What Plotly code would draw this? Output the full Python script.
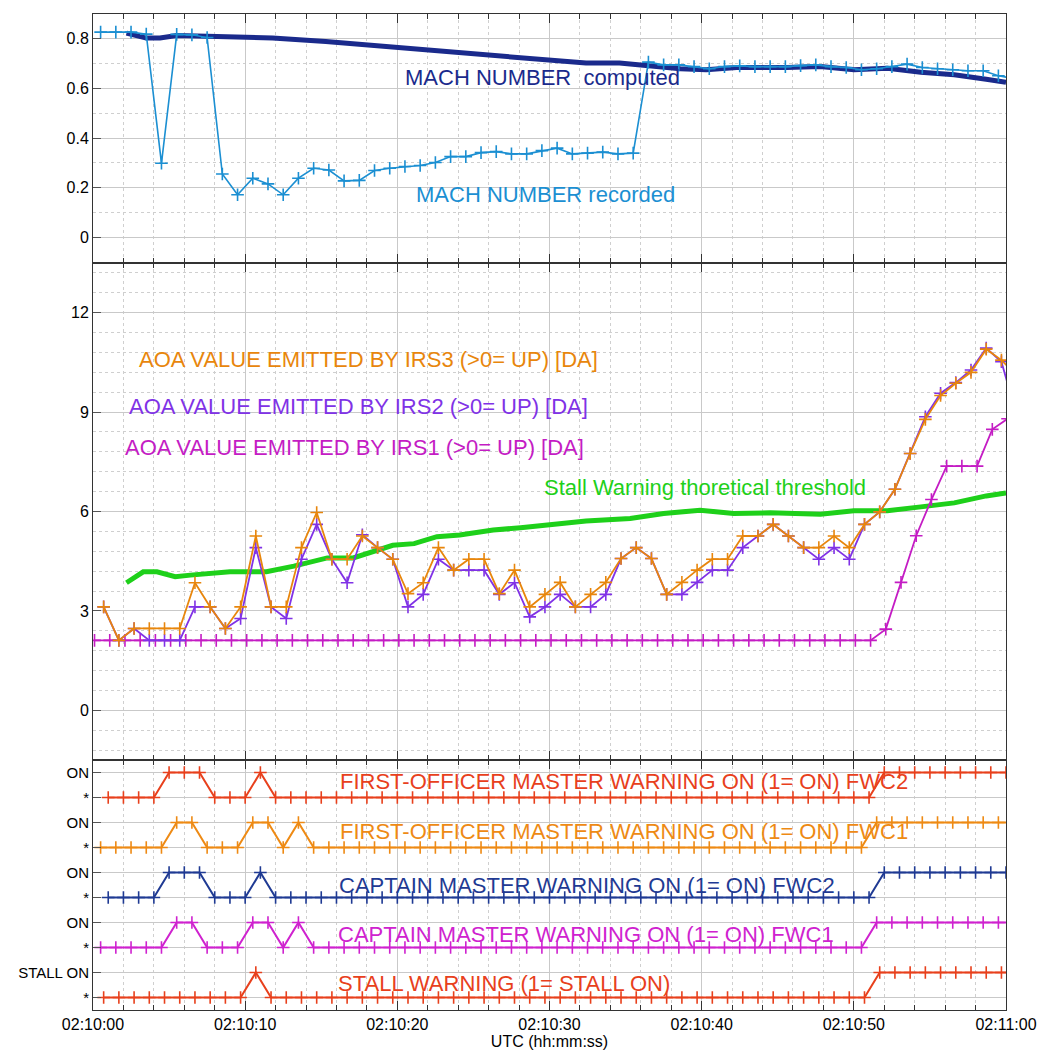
import plotly.graph_objects as go
from plotly.subplots import make_subplots

# ---------------- DATA ----------------
# time in seconds after 02:10:00
X_TICK_VALS = [0, 10, 20, 30, 40, 50, 60]
X_TICK_TEXT = ["02:10:00", "02:10:10", "02:10:20", "02:10:30", "02:10:40", "02:10:50", "02:11:00"]

# Mach number recorded (1 Hz, t = 0.5 s + k)
T_MACH_REC = [0.5, 1.5, 2.5, 3.5, 4.5, 5.5, 6.5, 7.5, 8.5, 9.5, 10.5, 11.5, 12.5, 13.5, 14.5,
              15.5, 16.5, 17.5, 18.5, 19.5, 20.5, 21.5, 22.5, 23.5, 24.5, 25.5, 26.5, 27.5, 28.5,
              29.5, 30.5, 31.5, 32.5, 33.5, 34.5, 35.5, 36.5, 37.5, 38.5, 39.5, 40.5, 41.5, 42.5,
              43.5, 44.5, 45.5, 46.5, 47.5, 48.5, 49.5, 50.5, 51.5, 52.5, 53.5, 54.5, 55.5, 56.5,
              57.5, 58.5, 59.5, 60.5]
MACH_REC = [0.827, 0.827, 0.827, 0.819, 0.298, 0.818, 0.816, 0.805, 0.255, 0.171, 0.238, 0.215,
            0.171, 0.238, 0.278, 0.271, 0.227, 0.229, 0.269, 0.278, 0.285, 0.289, 0.301, 0.325,
            0.325, 0.341, 0.345, 0.336, 0.336, 0.349, 0.359, 0.336, 0.339, 0.343, 0.336, 0.339,
            0.706, 0.695, 0.695, 0.688, 0.679, 0.688, 0.691, 0.688, 0.688, 0.688, 0.692, 0.695,
            0.688, 0.684, 0.675, 0.679, 0.688, 0.698, 0.684, 0.679, 0.675, 0.671, 0.671, 0.651,
            0.640]

# Mach number computed
T_MACH_COMP = [2.2, 3.5, 4.4, 5.5, 7.5, 9.9, 11.8, 15.3, 17.5, 19.7, 21.9, 24.1, 26.3, 28.1, 30.3,
               32.4, 34.6, 36.8, 38.6, 40.3, 42.3, 45.6, 47.8, 50.0, 52.2, 54.4, 56.6, 58.7, 60.0]
MACH_COMP = [0.823, 0.803, 0.803, 0.813, 0.810, 0.807, 0.803, 0.789, 0.778, 0.765, 0.753, 0.745,
             0.733, 0.726, 0.715, 0.702, 0.702, 0.688, 0.679, 0.675, 0.684, 0.684, 0.688, 0.675,
             0.681, 0.665, 0.655, 0.637, 0.625]

# AOA IRS1 (t = 0.1 s + k)
T_IRS1 = [0.1, 1.1, 2.1, 3.1, 4.1, 5.1, 6.1, 7.1, 8.1, 9.1, 10.1, 11.1, 12.1, 13.1, 14.1, 15.1,
          16.1, 17.1, 18.1, 19.1, 20.1, 21.1, 22.1, 23.1, 24.1, 25.1, 26.1, 27.1, 28.1, 29.1, 30.1,
          31.1, 32.1, 33.1, 34.1, 35.1, 36.1, 37.1, 38.1, 39.1, 40.1, 41.1, 42.1, 43.1, 44.1, 45.1,
          46.1, 47.1, 48.1, 49.1, 50.1, 51.1, 52.1, 53.1, 54.1, 55.1, 56.1, 57.1, 58.1, 59.1, 60.1]
AOA_IRS1 = [2.11, 2.11, 2.11, 2.11, 2.11, 2.11, 2.11, 2.11, 2.11, 2.11, 2.11, 2.11, 2.11, 2.11,
            2.11, 2.11, 2.11, 2.11, 2.11, 2.11, 2.11, 2.11, 2.11, 2.11, 2.11, 2.11, 2.11, 2.11,
            2.11, 2.11, 2.11, 2.11, 2.11, 2.11, 2.11, 2.11, 2.11, 2.11, 2.11, 2.11, 2.11, 2.11,
            2.11, 2.11, 2.11, 2.11, 2.11, 2.11, 2.11, 2.11, 2.11, 2.11, 2.45, 3.86, 5.27, 6.36,
            7.37, 7.37, 7.37, 8.48, 8.80]

# AOA IRS2 / IRS3 (t = 0.7 s + k)
T_IRS23 = [0.7, 1.7, 2.7, 3.7, 4.7, 5.7, 6.7, 7.7, 8.7, 9.7, 10.7, 11.7, 12.7, 13.7, 14.7, 15.7,
           16.7, 17.7, 18.7, 19.7, 20.7, 21.7, 22.7, 23.7, 24.7, 25.7, 26.7, 27.7, 28.7, 29.7, 30.7,
           31.7, 32.7, 33.7, 34.7, 35.7, 36.7, 37.7, 38.7, 39.7, 40.7, 41.7, 42.7, 43.7, 44.7, 45.7,
           46.7, 47.7, 48.7, 49.7, 50.7, 51.7, 52.7, 53.7, 54.7, 55.7, 56.7, 57.7, 58.7, 59.7, 60.7]
AOA_IRS2 = [3.12, 2.11, 2.47, 2.11, 2.11, 2.11, 3.12, 3.12, 2.47, 2.77, 4.91, 3.12, 2.77, 4.56,
            5.61, 4.56, 3.85, 5.30, 4.91, 4.56, 3.12, 3.50, 4.56, 4.23, 4.23, 4.23, 3.50, 3.85,
            2.82, 3.12, 3.50, 3.12, 3.12, 3.50, 4.58, 4.91, 4.58, 3.50, 3.50, 3.86, 4.23, 4.23,
            4.91, 5.26, 5.61, 5.26, 4.91, 4.56, 4.91, 4.56, 5.61, 5.99, 6.67, 7.75, 8.86, 9.57,
            9.89, 10.27, 10.93, 10.52, 8.90]
AOA_IRS3 = [3.12, 2.11, 2.47, 2.47, 2.47, 2.47, 3.85, 3.12, 2.47, 3.12, 5.26, 3.12, 3.12, 4.91,
            5.97, 4.56, 4.56, 5.26, 4.91, 4.56, 3.52, 3.85, 4.91, 4.23, 4.56, 4.56, 3.52, 4.23,
            3.12, 3.50, 3.86, 3.12, 3.50, 3.86, 4.58, 4.91, 4.58, 3.50, 3.86, 4.23, 4.56, 4.56,
            5.26, 5.26, 5.61, 5.26, 4.91, 4.91, 5.26, 4.91, 5.61, 5.99, 6.67, 7.75, 8.78, 9.50,
            9.87, 10.20, 10.90, 10.57, 10.10]

# Stall warning theoretical threshold
T_STALL_THR = [2.2, 3.3, 4.2, 5.4, 6.4, 7.7, 9.0, 10.1, 11.4, 13.2, 15.4, 17.1, 19.7, 21.1, 22.6,
               24.1, 26.3, 28.1, 30.3, 32.4, 35.3, 37.5, 39.9, 42.1, 44.5, 46.7, 47.8, 50.0, 52.2,
               54.4, 56.6, 58.7, 60.0]
STALL_THR = [3.85, 4.18, 4.18, 4.03, 4.08, 4.14, 4.18, 4.18, 4.18, 4.35, 4.60, 4.60, 4.98, 5.03,
             5.24, 5.29, 5.44, 5.51, 5.61, 5.71, 5.79, 5.94, 6.04, 5.94, 5.96, 5.92, 5.92, 6.02,
             6.02, 6.14, 6.26, 6.47, 6.56]

# Discrete parameters (0 = off "*", 1 = ON)
T_D1 = [1, 2, 3, 4, 5, 6, 7, 8, 9, 10, 11, 12, 13, 14, 15, 16, 17, 18, 19, 20, 21, 22, 23, 24, 25,
        26, 27, 28, 29, 30, 31, 32, 33, 34, 35, 36, 37, 38, 39, 40, 41, 42, 43, 44, 45, 46, 47, 48,
        49, 50, 51, 52, 53, 54, 55, 56, 57, 58, 59, 60]
T_D2 = [0.5, 1.5, 2.5, 3.5, 4.5, 5.5, 6.5, 7.5, 8.5, 9.5, 10.5, 11.5, 12.5, 13.5, 14.5, 15.5, 16.5,
        17.5, 18.5, 19.5, 20.5, 21.5, 22.5, 23.5, 24.5, 25.5, 26.5, 27.5, 28.5, 29.5, 30.5, 31.5,
        32.5, 33.5, 34.5, 35.5, 36.5, 37.5, 38.5, 39.5, 40.5, 41.5, 42.5, 43.5, 44.5, 45.5, 46.5,
        47.5, 48.5, 49.5, 50.5, 51.5, 52.5, 53.5, 54.5, 55.5, 56.5, 57.5, 58.5, 59.5, 60.5]
T_D3 = [0.7, 1.7, 2.7, 3.7, 4.7, 5.7, 6.7, 7.7, 8.7, 9.7, 10.7, 11.7, 12.7, 13.7, 14.7, 15.7, 16.7,
        17.7, 18.7, 19.7, 20.7, 21.7, 22.7, 23.7, 24.7, 25.7, 26.7, 27.7, 28.7, 29.7, 30.7, 31.7,
        32.7, 33.7, 34.7, 35.7, 36.7, 37.7, 38.7, 39.7, 40.7, 41.7, 42.7, 43.7, 44.7, 45.7, 46.7,
        47.7, 48.7, 49.7, 50.7, 51.7, 52.7, 53.7, 54.7, 55.7, 56.7, 57.7, 58.7, 59.7, 60.7]

FO_MW_FWC2 = [0, 0, 0, 0, 1, 1, 1, 0, 0, 0, 1, 0, 0, 0, 0, 0, 0, 0, 0, 0, 0, 0, 0, 0, 0, 0, 0, 0, 0,
              0, 0, 0, 0, 0, 0, 0, 0, 0, 0, 0, 0, 0, 0, 0, 0, 0, 0, 0, 0, 0, 0, 1, 1, 1, 1, 1, 1, 1,
              1, 1]
FO_MW_FWC1 = [0, 0, 0, 0, 0, 1, 1, 0, 0, 0, 1, 1, 0, 1, 0, 0, 0, 0, 0, 0, 0, 0, 0, 0, 0, 0, 0, 0, 0,
              0, 0, 0, 0, 0, 0, 0, 0, 0, 0, 0, 0, 0, 0, 0, 0, 0, 0, 0, 0, 0, 0, 1, 1, 1, 1, 1, 1, 1,
              1, 1, 1]
CPT_MW_FWC2 = [0, 0, 0, 0, 1, 1, 1, 0, 0, 0, 1, 0, 0, 0, 0, 0, 0, 0, 0, 0, 0, 0, 0, 0, 0, 0, 0, 0,
               0, 0, 0, 0, 0, 0, 0, 0, 0, 0, 0, 0, 0, 0, 0, 0, 0, 0, 0, 0, 0, 0, 0, 1, 1, 1, 1, 1, 1,
               1, 1, 1]
CPT_MW_FWC1 = [0, 0, 0, 0, 0, 1, 1, 0, 0, 0, 1, 1, 0, 1, 0, 0, 0, 0, 0, 0, 0, 0, 0, 0, 0, 0, 0, 0,
               0, 0, 0, 0, 0, 0, 0, 0, 0, 0, 0, 0, 0, 0, 0, 0, 0, 0, 0, 0, 0, 0, 0, 1, 1, 1, 1, 1, 1,
               1, 1, 1, 1]
STALL_WARN = [0, 0, 0, 0, 0, 0, 0, 0, 0, 0, 1, 0, 0, 0, 0, 0, 0, 0, 0, 0, 0, 0, 0, 0, 0, 0, 0, 0, 0,
              0, 0, 0, 0, 0, 0, 0, 0, 0, 0, 0, 0, 0, 0, 0, 0, 0, 0, 0, 0, 0, 0, 1, 1, 1, 1, 1, 1, 1,
              1, 1, 1]

DISC_TICK_VALS = [0, 1, 2, 3, 4, 5, 6, 7, 8, 9]
DISC_TICK_TEXT = ["*", "STALL ON", "*", "ON", "*", "ON", "*", "ON", "*", "ON"]

# ---------------- STYLE ----------------
FONT = "Liberation Sans, Arial, sans-serif"
C_MREC = "#1b8fd2"
C_MCOMP = "#1a2a8c"
C_IRS3 = "#e8860c"
C_IRS2 = "#8032e6"
C_IRS1 = "#c41cc4"
C_GREEN = "#1ed01a"
C_RED = "#e8401c"
C_ORANGE = "#ee8a14"
C_NAVY = "#1f3a93"
C_MAG = "#cf22cf"

fig = make_subplots(rows=3, cols=1, shared_xaxes=True, vertical_spacing=0,
                    row_heights=[249, 497, 250])


def add_line(t, v, color, row, width=1.6, markers=True, msize=9, offset=0):
    y = [val + offset for val in v]
    fig.add_trace(go.Scatter(
        x=t, y=y, mode="lines+markers" if markers else "lines",
        line=dict(color=color, width=width),
        marker=dict(symbol="cross-thin", size=msize, line=dict(width=1.6, color=color)),
        hoverinfo="skip"), row=row, col=1)


# top panel
add_line(T_MACH_COMP, MACH_COMP, C_MCOMP, 1, width=5, markers=False)
add_line(T_MACH_REC, MACH_REC, C_MREC, 1, width=1.6)

# middle panel
add_line(T_STALL_THR, STALL_THR, C_GREEN, 2, width=5, markers=False)
add_line(T_IRS1, AOA_IRS1, C_IRS1, 2, width=1.8)
add_line(T_IRS23, AOA_IRS2, C_IRS2, 2, width=1.8)
add_line(T_IRS23, AOA_IRS3, C_IRS3, 2, width=1.8)

# bottom panel
add_line(T_D1, FO_MW_FWC2, C_RED, 3, width=2, offset=8)
add_line(T_D2, FO_MW_FWC1, C_ORANGE, 3, width=2, offset=6)
add_line(T_D1, CPT_MW_FWC2, C_NAVY, 3, width=2, offset=4)
add_line(T_D2, CPT_MW_FWC1, C_MAG, 3, width=2, offset=2)
add_line(T_D3, STALL_WARN, C_RED, 3, width=2, offset=0)

# axes
GRID = "#c9c9c9"
MINOR_GRID = "#cfcfcf"
AX = "#333333"
for r in (1, 2, 3):
    fig.update_xaxes(
        row=r, col=1, range=[0, 60], tickmode="array", tickvals=X_TICK_VALS,
        ticktext=X_TICK_TEXT, showticklabels=(r == 3), ticks="inside", ticklen=9,
        tickcolor=AX, tickwidth=1, showline=True, linecolor=AX, linewidth=1,
        mirror="allticks", showgrid=True, gridcolor=GRID, gridwidth=1, zeroline=False,
        automargin=False,
        minor=dict(tickmode="linear", tick0=0, dtick=2, ticks="inside", ticklen=5,
                   tickcolor=AX, showgrid=True, gridcolor=MINOR_GRID, griddash="dot",
                   gridwidth=1),
        tickfont=dict(family=FONT, size=16, color="black"))

fig.update_xaxes(row=3, col=1, title=dict(text="UTC (hh:mm:ss)", standoff=0,
                                          font=dict(family=FONT, size=16, color="black")))

common_y = dict(ticks="inside", ticklen=8, tickcolor="#555555", showline=True, linecolor=AX,
                linewidth=1, mirror=True, showgrid=True, gridcolor=GRID, gridwidth=1.2,
                zeroline=False, automargin=False,
                tickfont=dict(family=FONT, size=16, color="black"))

fig.update_yaxes(row=1, col=1, range=[-0.104, 0.9], tickmode="array",
                 tickvals=[0, 0.2, 0.4, 0.6, 0.8], ticktext=["0", "0.2", "0.4", "0.6", "0.8"],
                 minor=dict(tickmode="linear", tick0=0, dtick=0.1, showgrid=True,
                            gridcolor=MINOR_GRID, griddash="dot", ticks=""), **common_y)
fig.update_yaxes(row=2, col=1, range=[-1.5, 13.5], tickmode="array",
                 tickvals=[0, 3, 6, 9, 12], ticktext=["0", "3", "6", "9", "12"],
                 minor=dict(tickmode="linear", tick0=0, dtick=0.6, showgrid=True,
                            gridcolor=MINOR_GRID, griddash="dot", ticks=""), **common_y)
fig.update_yaxes(row=3, col=1, range=[-0.5, 9.5], tickmode="array",
                 tickvals=DISC_TICK_VALS, ticktext=DISC_TICK_TEXT, **common_y)
fig.update_yaxes(row=3, col=1, tickfont=dict(family=FONT, size=15, color="black"))


def label(text, x, y, color, row):
    suffix = "" if row == 1 else str(row)
    fig.add_annotation(text=text, x=x, y=y, xref="x" + suffix, yref="y" + suffix,
                       xanchor="left", yanchor="middle", showarrow=False,
                       font=dict(family=FONT, size=22, color=color))


label("MACH NUMBER&nbsp; computed", 20.37, 0.642, C_MCOMP, 1)
label("MACH NUMBER recorded", 21.1, 0.171, C_MREC, 1)
label("AOA VALUE EMITTED BY IRS3 (&gt;0= UP) [DA]", 2.86, 10.59, C_IRS3, 2)
label("AOA VALUE EMITTED BY IRS2 (&gt;0= UP) [DA]", 2.21, 9.18, C_IRS2, 2)
label("AOA VALUE EMITTED BY IRS1 (&gt;0= UP) [DA]", 1.95, 7.92, C_IRS1, 2)
label("Stall Warning thoretical threshold", 29.48, 6.71, C_GREEN, 2)
label("FIRST-OFFICER MASTER WARNING ON (1= ON) FWC2", 16.1, 8.63, C_RED, 3)
label("FIRST-OFFICER MASTER WARNING ON (1= ON) FWC1", 16.1, 6.65, C_ORANGE, 3)
label("CAPTAIN MASTER WARNING ON (1= ON) FWC2", 16.05, 4.48, C_NAVY, 3)
label("CAPTAIN MASTER WARNING ON (1= ON) FWC1", 16.0, 2.52, C_MAG, 3)
label("STALL WARNING (1= STALL ON)", 16.0, 0.58, C_RED, 3)

fig.update_layout(width=1039, height=1052, margin=dict(l=93, r=33, t=14, b=42),
                  paper_bgcolor="white", plot_bgcolor="white", showlegend=False,
                  hovermode=False,
                  font=dict(family=FONT, size=15, color="black"))

# remove the default page margin so the figure fills the window exactly
fig.write_html("out.html",
               config={"displayModeBar": False},
               post_script="document.body.style.margin='0';"
                           "document.body.style.overflow='hidden';")
